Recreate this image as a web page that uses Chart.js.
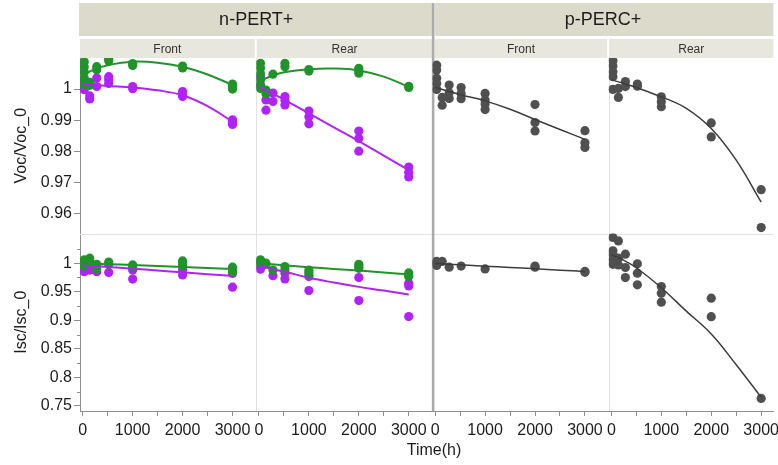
<!DOCTYPE html>
<html>
<head>
<meta charset="utf-8">
<style>
  html, body { margin: 0; padding: 0; background: #fff; }
  #wrap { position: relative; width: 778px; height: 465px; }
</style>
<script src="https://cdn.jsdelivr.net/npm/chart.js@4.4.1/dist/chart.umd.min.js"></script>
</head>
<body>
<div id="wrap"><canvas id="c" width="778" height="465"></canvas></div>
<script>
// ---- facet labels and tick labels ----
const groupLabels = ['n-PERT+', 'p-PERC+'];
const sideLabels = ['Front', 'Rear', 'Front', 'Rear'];
const timeTicks = [0, 1000, 2000, 3000];
const timeMinor = [500, 1500, 2500];
const vocTicks = [0.96, 0.97, 0.98, 0.99, 1];
const vocTickLabels = ['0.96', '0.97', '0.98', '0.99', '1'];
const iscTicks = [0.75, 0.8, 0.85, 0.9, 0.95, 1];
const iscTickLabels = ['0.75', '0.8', '0.85', '0.9', '0.95', '1'];
const iscMinor = [0.775, 0.825, 0.875, 0.925, 0.975, 1.025];

// ---- measurement times (h) and fit-curve sample times ----
const sampleTimes = [30, 140, 280, 520, 1000, 2000, 3000];
const fitTimes = [0, 250, 500, 1000, 1500, 2000, 2500, 3000];

// ---- n-PERT+ Front : Voc/Voc_0 (replicates per sample time) ----
const nFrontVocGreen = [[1.0088,1.0072,1.0055,1.0035,1.0015],[1.0022,1.0012],[1.0072,1.0062],[1.0097,1.0090],[1.0082,1.0076],[1.0074,1.0068],[1.0016,1.0007,1.0000]];
const nFrontVocPurple = [[1.0025,1.0010,0.9998],[0.9978,0.9968],[1.0036,1.0008],[1.0040,1.0030,1.0018],[1.0008,1.0001],[0.9992,0.9984,0.9976],[0.9901,0.9893,0.9886]];
const nFrontVocGreenFit = [1.0045,1.0064,1.0077,1.0088,1.0085,1.0072,1.0047,1.0013];
const nFrontVocPurpleFit = [1.0015,1.0013,1.0010,1.0005,0.9996,0.9980,0.9945,0.9895];

// ---- n-PERT+ Rear : Voc/Voc_0 ----
const nRearVocGreen = [[1.0083,1.0068,1.0050,1.0030,1.0012,1.0002],[0.9997,0.9985],[1.0048],[1.0083,1.0072],[1.0063,1.0058],[1.0067,1.0058,1.0051],[1.0009,1.0005]];
const nRearVocPurple = [[1.0040,1.0015],[0.9965,0.9932],[0.9987,0.9960],[0.9976,0.9963,0.9949],[0.9929,0.9911,0.9888],[0.9865,0.9841,0.9800],[0.9749,0.9731,0.9717]];
const nRearVocGreenFit = [1.0025,1.0042,1.0054,1.0064,1.0066,1.0060,1.0040,1.0007];
const nRearVocPurpleFit = [1.0008,0.9987,0.9966,0.9922,0.9877,0.9832,0.9786,0.9739];

// ---- p-PERC+ Front / Rear : Voc/Voc_0 ----
const pFrontVoc = [[1.0077,1.0061,1.0035,1.0018,0.9999],[0.9973,0.9948],[1.0013,0.9988,0.9970],[1.0005,0.9986,0.9969],[0.9986,0.9965,0.9952,0.9934],[0.9950,0.9892,0.9865],[0.9866,0.9827,0.9812]];
const pFrontVocFit = [1.0005,0.9994,0.9982,0.9962,0.9935,0.9902,0.9870,0.9838];
const pRearVoc = [[1.0091,1.0074,1.0056,1.0040,0.9999],[1.0002,0.9973],[1.0024,1.0008],[1.0016,1.0009],[0.9975,0.9959,0.9943],[0.9891,0.9846],[0.9676,0.9554]];
const pRearVocFit = [1.0030,1.0018,1.0005,0.9975,0.9938,0.9873,0.9771,0.9636];

// ---- n-PERT+ Front / Rear : Isc/Isc_0 ----
const nFrontIscGreen = [[1.006,1.003,1.000,0.995],[1.0088,1.003],[0.998,0.990],[1.002,0.998],[0.997,0.993],[1.004,0.999,0.995],[0.993,0.988,0.984]];
const nFrontIscPurple = [[0.9895,0.985],[0.988],[0.985],[0.9838],[0.988,0.9722],[0.988,0.9795],[0.982,0.958]];
const nFrontIscGreenFit = [1.000,0.9992,0.9983,0.9967,0.9950,0.9933,0.9917,0.9900];
const nFrontIscPurpleFit = [0.9963,0.9948,0.9933,0.9903,0.9872,0.9840,0.9808,0.9775];
const nRearIscGreen = [[1.006,1.003,1.000],[1.000,0.998],[0.988],[0.994,0.988],[0.988,0.984,0.9795],[0.998,0.994,0.991],[0.983,0.9795,0.9765]];
const nRearIscPurple = [[0.994,0.9895],[],[0.978],[0.9825,0.9725],[0.9765,0.952],[0.9748,0.9345],[0.965,0.960,0.9065]];
const nRearIscGreenFit = [0.9995,0.9980,0.9963,0.9930,0.9900,0.9870,0.9837,0.9805];
const nRearIscPurpleFit = [0.9960,0.9900,0.9855,0.9745,0.9660,0.9585,0.9520,0.9450];

// ---- p-PERC+ Front / Rear : Isc/Isc_0 ----
const pFrontIsc = [[1.003,1.000,0.996],[1.003],[0.993],[0.995],[0.990],[0.995,0.993],[0.9855,0.984]];
const pFrontIscFit = [0.9995,0.9983,0.9972,0.9948,0.9925,0.9902,0.9878,0.9855];
const pRearIsc = [[1.045,1.0216,1.0146,1.0058,0.998],[1.039,1.0088,0.997],[1.0158,0.9923,0.9748],[0.9988,0.9825,0.962],[0.959,0.9474,0.9316],[0.9386,0.9063],[0.763]];
const pRearIscFit = [1.015,1.005,0.992,0.957,0.916,0.876,0.822,0.765];

// ---- styling ----
const FONT = '"Liberation Sans", Arial, Helvetica, sans-serif';
const GREEN = '#22932b';
const PURPLE = '#b023f6';
const GRAY_PT = '#505050';
const GRAY_LN = '#3c3c3c';
const AXIS = '#8e8e8e';
const TEXT = '#1c1c1c';

Chart.defaults.font.family = FONT;

const pts = groups => groups.flatMap((vals, i) => vals.map(v => ({ x: sampleTimes[i], y: v })));
const curve = vals => vals.map((v, i) => ({ x: fitTimes[i], y: v }));

function pointSet(groups, color, xID, yID) {
  return { type: 'scatter', data: pts(groups), xAxisID: xID, yAxisID: yID,
    backgroundColor: color, borderColor: color, pointRadius: 4.6, pointBorderWidth: 0, showLine: false };
}
function fitSet(vals, color, width, xID, yID) {
  return { type: 'line', data: curve(vals), xAxisID: xID, yAxisID: yID,
    borderColor: color, borderWidth: width, pointRadius: 0, tension: 0.4, fill: false };
}

// first entries are drawn on top
const datasets = [
  fitSet(nFrontVocGreenFit, GREEN, 2, 'xA', 'yV'),
  fitSet(nFrontVocPurpleFit, PURPLE, 2, 'xA', 'yV'),
  fitSet(nRearVocGreenFit, GREEN, 2, 'xB', 'yV'),
  fitSet(nRearVocPurpleFit, PURPLE, 2, 'xB', 'yV'),
  fitSet(pFrontVocFit, GRAY_LN, 1.5, 'xC', 'yV'),
  fitSet(pRearVocFit, GRAY_LN, 1.5, 'xD', 'yV'),
  fitSet(nFrontIscGreenFit, GREEN, 2, 'xA', 'yI'),
  fitSet(nFrontIscPurpleFit, PURPLE, 2, 'xA', 'yI'),
  fitSet(nRearIscGreenFit, GREEN, 2, 'xB', 'yI'),
  fitSet(nRearIscPurpleFit, PURPLE, 2, 'xB', 'yI'),
  fitSet(pFrontIscFit, GRAY_LN, 1.5, 'xC', 'yI'),
  fitSet(pRearIscFit, GRAY_LN, 1.5, 'xD', 'yI'),
  pointSet(nFrontVocGreen, GREEN, 'xA', 'yV'),
  pointSet(nRearVocGreen, GREEN, 'xB', 'yV'),
  pointSet(nFrontIscGreen, GREEN, 'xA', 'yI'),
  pointSet(nRearIscGreen, GREEN, 'xB', 'yI'),
  pointSet(nFrontVocPurple, PURPLE, 'xA', 'yV'),
  pointSet(nRearVocPurple, PURPLE, 'xB', 'yV'),
  pointSet(nFrontIscPurple, PURPLE, 'xA', 'yI'),
  pointSet(nRearIscPurple, PURPLE, 'xB', 'yI'),
  pointSet(pFrontVoc, GRAY_PT, 'xC', 'yV'),
  pointSet(pRearVoc, GRAY_PT, 'xD', 'yV'),
  pointSet(pFrontIsc, GRAY_PT, 'xC', 'yI'),
  pointSet(pRearIsc, GRAY_PT, 'xD', 'yI'),
];

function timeAxis(min, max) {
  return {
    type: 'linear', position: 'bottom', stack: 'time', stackWeight: max - min, min, max,
    afterBuildTicks: s => { s.ticks = timeTicks.concat(timeMinor).sort((a, b) => a - b).map(v => ({ value: v })); },
    afterFit: s => { s.height = 54; s.paddingLeft = 0; s.paddingRight = 0; },
    ticks: { autoSkip: false, maxRotation: 0, minRotation: 0, padding: 5, color: TEXT,
      font: { family: FONT, size: 16 },
      callback: v => (timeTicks.indexOf(v) >= 0 ? String(v) : '') },
    grid: { drawOnChartArea: false, drawTicks: true, tickLength: 5, color: AXIS },
    border: { display: true, color: AXIS, width: 1 },
  };
}
function ratioAxis(min, max, weight, ticks, labels, title) {
  return {
    type: 'linear', position: 'left', stack: 'rows', stackWeight: weight, min, max,
    afterBuildTicks: s => { s.ticks = ticks.map(v => ({ value: v })); },
    afterFit: s => { s.width = 80; s.paddingTop = 0; s.paddingBottom = 0; },
    ticks: { autoSkip: false, padding: 2, color: TEXT, font: { family: FONT, size: 16 }, callback: (v, i) => labels[i] },
    title: { display: true, text: title, color: TEXT, font: { family: FONT, size: 16 }, padding: { top: 12, bottom: 0 } },
    grid: { drawOnChartArea: false, drawTicks: true, tickLength: 6, color: AXIS },
    border: { display: true, color: AXIS, width: 1 },
  };
}

const scales = {
  xA: timeAxis(-55, 3475),
  xB: timeAxis(-55, 3475),
  xC: timeAxis(-55, 3475),
  xD: timeAxis(-55, 3245),
  yI: ratioAxis(0.741, 1.052, 177.5, iscTicks, iscTickLabels, 'Isc/Isc_0'),
  yV: ratioAxis(0.9535, 1.010, 175.5, vocTicks, vocTickLabels, 'Voc/Voc_0'),
};

// facet header bands, panel frames and shared axis title
const facetPlugin = {
  id: 'facets',
  beforeDraw(chart) {
    const { ctx, chartArea, scales: s } = chart;
    ctx.save();
    ctx.fillStyle = '#ffffff';
    ctx.fillRect(0, 0, chart.width, chart.height);
    // group header bands
    ctx.fillStyle = '#dcdacb';
    ctx.fillRect(s.xA.left - 1, 3, s.xB.right - s.xA.left + 1, 33);
    ctx.fillRect(s.xC.left + 2.4, 3, s.xD.right - s.xC.left - 2.4, 33);
    ctx.fillStyle = TEXT;
    ctx.font = '18px ' + FONT;
    ctx.textAlign = 'center';
    ctx.textBaseline = 'middle';
    ctx.fillText(groupLabels[0], (s.xA.left + s.xB.right) / 2, 20.5);
    ctx.fillText(groupLabels[1], (s.xC.left + s.xD.right) / 2, 20.5);
    // side header bands
    const bands = [
      [s.xA.left, s.xA.right - 1.5],
      [s.xB.left + 0.5, s.xB.right],
      [s.xC.left + 2.4, s.xC.right - 1.5],
      [s.xD.left + 0.5, s.xD.right],
    ];
    ctx.font = '12px ' + FONT;
    bands.forEach(([a, b], i) => {
      ctx.fillStyle = '#e8e7de';
      ctx.fillRect(a, 39, b - a, chartArea.top - 39);
      ctx.fillStyle = '#333333';
      ctx.fillText(sideLabels[i], (a + b) / 2, 49.5);
    });
    ctx.restore();
  },
  beforeDatasetsDraw(chart) {
    const { ctx, chartArea, scales: s } = chart;
    ctx.save();
    ctx.strokeStyle = '#e2e2e2';
    ctx.lineWidth = 1;
    ctx.beginPath();
    [s.xA.right, s.xC.right].forEach(x => {
      ctx.moveTo(Math.round(x) + 0.5, chartArea.top);
      ctx.lineTo(Math.round(x) + 0.5, chartArea.bottom);
    });
    const yRow = Math.round(s.yV.bottom) + 0.5;
    ctx.moveTo(chartArea.left, yRow);
    ctx.lineTo(chartArea.right, yRow);
    ctx.stroke();
    // group separator
    ctx.fillStyle = '#ababab';
    ctx.fillRect(s.xC.left - 0.6, 3, 2.6, chartArea.bottom - 3);
    ctx.restore();
  },
  afterDraw(chart) {
    const { ctx, scales: s } = chart;
    ctx.save();
    // minor ticks on the Isc axis
    ctx.strokeStyle = AXIS;
    ctx.lineWidth = 1;
    ctx.beginPath();
    iscMinor.forEach(v => {
      const y = Math.round(s.yI.getPixelForValue(v)) + 0.5;
      ctx.moveTo(s.yI.right - 3, y);
      ctx.lineTo(s.yI.right, y);
    });
    ctx.stroke();
    ctx.fillStyle = TEXT;
    ctx.font = '16px ' + FONT;
    ctx.textAlign = 'center';
    ctx.textBaseline = 'middle';
    ctx.fillText('Time(h)', 434, 451);
    ctx.restore();
  },
};

new Chart(document.getElementById('c'), {
  type: 'scatter',
  data: { datasets },
  options: {
    responsive: false,
    animation: false,
    events: [],
    layout: { padding: { top: 58, left: 0, right: 0, bottom: 0 } },
    plugins: { legend: { display: false }, tooltip: { enabled: false } },
    scales,
  },
  plugins: [facetPlugin],
});
</script>
</body>
</html>
